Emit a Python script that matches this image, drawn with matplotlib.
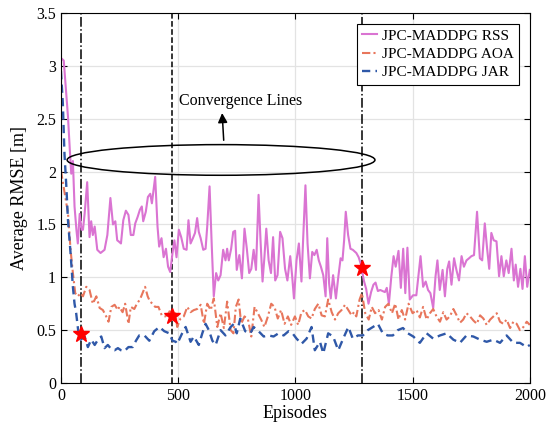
import matplotlib
matplotlib.use("Agg")
import matplotlib.pyplot as plt
from matplotlib.patches import Ellipse

plt.rcParams['font.family'] = ['Liberation Serif', 'DejaVu Serif']
plt.rcParams['mathtext.fontset'] = 'stix'

# JPC-MADDPG RSS (episode, RMSE)
rss_ep = [2, 12, 22, 30, 38, 44, 51, 58, 66, 72, 80, 88, 94, 101, 112, 122, 129, 136, 144, 155,
          169, 186, 198, 211, 222, 232, 240, 246, 256, 266, 277, 288, 298, 309, 317, 327, 337, 345, 351, 362,
          371, 381, 388, 402, 412, 419, 429, 438, 448, 457, 466, 476, 484, 493, 503, 513, 524, 536, 544, 553,
          563, 572, 581, 588, 596, 607, 617, 624, 634, 643, 652, 662, 671, 681, 692, 702, 709, 716, 726, 735,
          743, 750, 761, 772, 783, 793, 803, 812, 822, 832, 843, 852, 860, 868, 876, 886, 896, 905, 914, 924,
          935, 945, 956, 966, 978, 986, 994, 1005, 1015, 1026, 1033, 1043, 1052, 1062, 1072, 1081, 1091, 1100, 1109, 1119,
          1129, 1136, 1144, 1151, 1161, 1173, 1183, 1193, 1201, 1208, 1215, 1225, 1235, 1245, 1260, 1270, 1280, 1292, 1302, 1312,
          1323, 1333, 1342, 1352, 1362, 1372, 1382, 1390, 1399, 1409, 1419, 1428, 1440, 1450, 1460, 1469, 1478, 1488, 1502, 1516,
          1534, 1545, 1556, 1566, 1576, 1588, 1598, 1606, 1616, 1628, 1638, 1648, 1656, 1666, 1677, 1687, 1698, 1709, 1719, 1730,
          1741, 1751, 1762, 1775, 1787, 1797, 1808, 1818, 1827, 1836, 1846, 1858, 1869, 1879, 1889, 1900, 1910, 1922, 1932, 1940,
          1950, 1960, 1969, 1979, 1989, 2000]
rss_val = [3.07, 3.05, 2.75, 2.52, 2.2, 1.98, 2.1, 1.67, 1.45, 1.32, 1.6, 1.45, 1.45, 1.6, 1.9, 1.38, 1.53, 1.4, 1.48, 1.26,
           1.23, 1.26, 1.4, 1.75, 1.5, 1.53, 1.35, 1.34, 1.32, 1.54, 1.63, 1.59, 1.4, 1.4, 1.51, 1.57, 1.64, 1.67, 1.53, 1.62,
           1.76, 1.79, 1.7, 1.95, 1.48, 1.29, 1.37, 1.19, 1.27, 1.1, 1.05, 1.23, 1.35, 1.19, 1.45, 1.38, 1.27, 1.26, 1.54, 1.32,
           1.37, 1.42, 1.56, 1.43, 1.37, 1.26, 1.27, 1.48, 1.86, 1.32, 0.82, 1.04, 0.97, 1.02, 1.26, 1.16, 1.27, 1.16, 1.27, 1.43,
           1.44, 1.07, 1.21, 0.99, 1.46, 1.27, 1.04, 1.08, 1.26, 1.07, 1.78, 1.32, 0.96, 1.19, 1.46, 1.16, 1.04, 1.38, 0.97, 1.02,
           1.43, 1.37, 1.08, 0.97, 1.2, 1.02, 0.8, 1.16, 1.32, 0.96, 1.35, 1.87, 1.32, 0.99, 1.24, 1.21, 1.26, 1.16, 1.1, 1.02,
           0.82, 1.37, 0.94, 0.8, 1.02, 0.8, 1.0, 1.18, 1.16, 1.35, 1.62, 1.4, 1.27, 1.26, 1.23, 1.19, 1.12, 0.97, 0.89, 0.75,
           0.86, 0.93, 0.95, 0.87, 0.88, 0.87, 0.86, 0.9, 0.75, 1.0, 1.2, 1.1, 1.25, 0.9, 1.27, 0.85, 1.28, 0.79, 0.83, 0.83,
           1.2, 0.91, 0.96, 0.88, 0.85, 0.71, 1.01, 1.16, 0.88, 1.07, 0.82, 1.08, 1.15, 0.93, 1.18, 1.07, 0.97, 1.2, 1.1, 1.16,
           1.18, 1.2, 1.21, 1.62, 1.18, 1.16, 1.51, 1.27, 1.08, 1.42, 1.35, 1.34, 1.01, 1.2, 1.01, 1.16, 1.04, 1.27, 0.97, 1.12,
           0.91, 1.08, 0.89, 1.2, 0.91, 1.07]

# JPC-MADDPG AOA
aoa_ep = [0, 8, 16, 23, 30, 41, 51, 61, 72, 84, 94, 108, 122, 136, 151, 165, 179, 193, 203, 215,
          229, 243, 249, 263, 274, 288, 298, 313, 324, 337, 348, 359, 370, 380, 391, 402, 416, 430, 445, 459,
          469, 480, 488, 496, 510, 524, 539, 553, 567, 581, 596, 610, 624, 639, 652, 667, 681, 695, 709, 724,
          736, 746, 758, 769, 783, 798, 812, 826, 840, 854, 868, 883, 897, 911, 925, 939, 954, 968, 982, 998,
          1012, 1026, 1041, 1055, 1069, 1083, 1098, 1112, 1126, 1140, 1155, 1169, 1183, 1197, 1212, 1226, 1240, 1250, 1260, 1274,
          1284, 1298, 1313, 1326, 1340, 1355, 1369, 1383, 1397, 1412, 1426, 1440, 1454, 1468, 1483, 1500, 1517, 1531, 1545, 1560,
          1574, 1588, 1602, 1617, 1631, 1645, 1659, 1674, 1688, 1702, 1716, 1730, 1745, 1760, 1774, 1788, 1802, 1816, 1831, 1845,
          1859, 1873, 1887, 1901, 1916, 1930, 1944, 1958, 1973, 1987, 2000]
aoa_val = [2.01, 1.9, 1.79, 1.7, 1.61, 1.26, 1.04, 0.85, 0.82, 0.85, 0.82, 0.91, 0.88, 0.75, 0.82, 0.71, 0.69, 0.63, 0.58, 0.72,
           0.74, 0.69, 0.72, 0.67, 0.75, 0.56, 0.72, 0.7, 0.75, 0.79, 0.85, 0.91, 0.82, 0.77, 0.75, 0.72, 0.72, 0.64, 0.63, 0.66,
           0.7, 0.62, 0.66, 0.53, 0.61, 0.63, 0.72, 0.67, 0.69, 0.7, 0.74, 0.56, 0.75, 0.69, 0.8, 0.53, 0.66, 0.52, 0.77, 0.5,
           0.47, 0.72, 0.79, 0.56, 0.63, 0.6, 0.44, 0.72, 0.66, 0.6, 0.53, 0.63, 0.75, 0.72, 0.61, 0.69, 0.56, 0.63, 0.55, 0.63,
           0.55, 0.67, 0.69, 0.63, 0.61, 0.7, 0.75, 0.64, 0.63, 0.79, 0.67, 0.6, 0.66, 0.69, 0.74, 0.69, 0.64, 0.67, 0.63, 0.79,
           0.85, 0.66, 0.6, 0.72, 0.66, 0.69, 0.6, 0.72, 0.75, 0.66, 0.75, 0.6, 0.69, 0.6, 0.75, 0.66, 0.69, 0.62, 0.72, 0.6,
           0.66, 0.7, 0.63, 0.58, 0.67, 0.6, 0.63, 0.7, 0.64, 0.57, 0.6, 0.66, 0.63, 0.59, 0.56, 0.64, 0.61, 0.55, 0.6, 0.63,
           0.66, 0.58, 0.56, 0.6, 0.52, 0.58, 0.56, 0.5, 0.53, 0.58, 0.55]

# JPC-MADDPG JAR
jar_ep = [0, 8, 15, 23, 30, 41, 51, 58, 65, 75, 84, 101, 115, 129, 144, 158, 172, 186, 200, 215,
          229, 243, 256, 270, 288, 306, 320, 334, 356, 377, 398, 420, 441, 462, 476, 490, 496, 517, 532, 553,
          567, 588, 603, 617, 631, 646, 660, 681, 702, 724, 738, 750, 765, 786, 808, 822, 843, 865, 886, 907,
          928, 950, 971, 988, 1005, 1026, 1048, 1069, 1083, 1105, 1119, 1140, 1161, 1183, 1204, 1226, 1245, 1267, 1288, 1309,
          1331, 1352, 1373, 1394, 1416, 1437, 1459, 1480, 1503, 1531, 1560, 1588, 1617, 1645, 1674, 1702, 1730, 1759, 1788, 1816,
          1845, 1873, 1901, 1930, 1958, 1987, 2000]
jar_val = [2.95, 2.65, 2.17, 1.86, 1.54, 1.23, 0.91, 0.75, 0.66, 0.47, 0.41, 0.44, 0.34, 0.41, 0.36, 0.41, 0.44, 0.33, 0.36, 0.32,
           0.31, 0.33, 0.31, 0.3, 0.34, 0.34, 0.4, 0.45, 0.45, 0.4, 0.49, 0.53, 0.49, 0.47, 0.4, 0.39, 0.37, 0.47, 0.53, 0.39,
           0.44, 0.36, 0.47, 0.56, 0.5, 0.4, 0.36, 0.5, 0.45, 0.53, 0.56, 0.47, 0.61, 0.49, 0.47, 0.53, 0.49, 0.44, 0.45, 0.44,
           0.47, 0.45, 0.49, 0.47, 0.42, 0.37, 0.42, 0.53, 0.31, 0.39, 0.28, 0.47, 0.44, 0.31, 0.42, 0.53, 0.42, 0.45, 0.45, 0.5,
           0.53, 0.56, 0.47, 0.45, 0.45, 0.5, 0.52, 0.47, 0.44, 0.38, 0.47, 0.42, 0.45, 0.47, 0.41, 0.38, 0.45, 0.44, 0.41, 0.39,
           0.41, 0.38, 0.45, 0.38, 0.38, 0.34, 0.36]

# convergence points
conv_ep = [84, 474, 1285]
conv_val = [0.46, 0.63, 1.085]
conv_styles = ['-.', '--', '-.']

fig = plt.figure(figsize=(5.49, 4.32), dpi=100)
ax = fig.add_axes([0.111, 0.1134, 0.854, 0.8565])

ax.plot(rss_ep, rss_val, '-', color='#da74d2', lw=1.5, label='JPC-MADDPG RSS')
ax.plot(aoa_ep, aoa_val, color='#e8765c', lw=1.5, dashes=(4, 1.5, 1, 1.5), label='JPC-MADDPG AOA')
ax.plot(jar_ep, jar_val, color='#2f58a8', lw=1.7, dashes=(3.5, 2.2), label='JPC-MADDPG JAR')

for e, ls in zip(conv_ep, conv_styles):
    ax.axvline(e, color='black', ls=ls, lw=1.1, zorder=1)
ax.plot(conv_ep, conv_val, '*', color='red', markersize=12, zorder=5)

ax.add_patch(Ellipse((683, 2.11), 1313, 0.29, fill=False, color='black', lw=1.1, zorder=4))
ax.annotate('', xy=(687, 2.58), xytext=(695, 2.27),
            arrowprops=dict(arrowstyle='-|>', color='black', lw=1.1, mutation_scale=14))
ax.text(503, 2.67, 'Convergence Lines', fontsize=11.5, ha='left', va='center')

ax.set_xlim(0, 2000)
ax.set_ylim(0, 3.5)
ax.set_xticks([0, 500, 1000, 1500, 2000])
ax.set_yticks([0, 0.5, 1, 1.5, 2, 2.5, 3, 3.5])
ax.set_yticklabels(['0', '0.5', '1', '1.5', '2', '2.5', '3', '3.5'])
ax.tick_params(direction='in', top=True, right=True, labelsize=11.5, length=4)
ax.grid(True, color='#e3e3e3', lw=0.9)
ax.set_axisbelow(True)
ax.set_xlabel('Episodes', fontsize=13, labelpad=1)
ax.set_ylabel('Average RMSE [m]', fontsize=13, labelpad=6)

leg = ax.legend(loc='upper right', fontsize=11, handlelength=1.0, handletextpad=0.3,
                borderaxespad=0.7, fancybox=False, framealpha=1, edgecolor='black',
                borderpad=0.35, labelspacing=0.3)
leg.get_frame().set_linewidth(0.8)

fig.savefig('out.png', dpi=100)
